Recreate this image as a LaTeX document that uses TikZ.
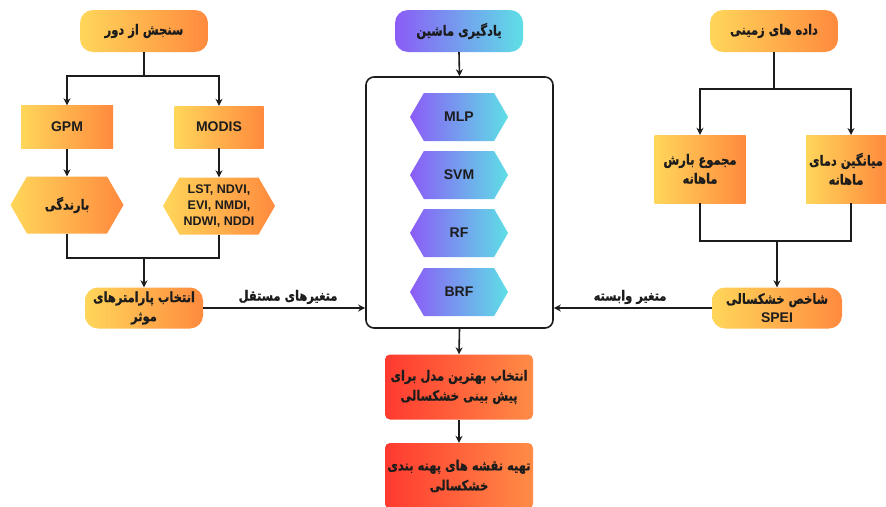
\documentclass[tikz,border=0pt]{standalone}
\usepackage{fontspec}
\setmainfont{Liberation Sans}
\newfontfamily\fa[Script=Arabic, FakeStretch=0.82, BoldFeatures={FakeStretch=0.82, FakeBold=0.8}]{DejaVu Sans}
\TeXXeTstate=1
\usetikzlibrary{shapes.symbols,arrows.meta,calc}
\definecolor{ylw}{RGB}{255,214,90}
\definecolor{org}{RGB}{255,138,62}
\definecolor{redL}{RGB}{255,58,48}
\definecolor{redR}{RGB}{255,140,70}
\definecolor{purL}{RGB}{139,92,246}
\definecolor{cyaR}{RGB}{94,223,230}
\definecolor{ink}{RGB}{28,28,28}
\newcommand{\fatext}[1]{{\fa\bfseries\beginR #1\endR}}
\begin{document}
\begin{tikzpicture}[x=1pt,y=-1pt,
  base/.style={rectangle, inner sep=0pt, align=center, text=ink, font=\bfseries\fontsize{14}{19}\selectfont},
  orbox/.style={base, left color=ylw, right color=org},
  pill/.style={orbox, rounded corners=13pt},
  purbox/.style={base, left color=purL, right color=cyaR, rounded corners=13pt},
  redbox/.style={base, left color=redL, right color=redR, rounded corners=5pt, font=\bfseries\fontsize{14}{20}\selectfont},
  hexo/.style={base, shape=signal, signal to=east and west, signal pointer angle=120, left color=ylw, right color=org},
  hexp/.style={base, shape=signal, signal to=east and west, signal pointer angle=120, left color=purL, right color=cyaR, font=\bfseries\fontsize{14}{17}\selectfont, minimum width=98pt, minimum height=48pt},
  latin/.style={font=\bfseries\fontsize{14}{17}\selectfont},
  arr/.style={draw=ink, line width=1.6pt, -{Stealth[length=7pt,width=7pt]}},
  ln/.style={draw=ink, line width=1.6pt},
  elabel/.style={text=ink, font=\bfseries\fontsize{14}{16}\selectfont, inner sep=0pt}
]
\fill[white] (0,0) rectangle (886,506);
\useasboundingbox (0,0) rectangle (886,506);

% left column
\node[pill, minimum width=128pt, minimum height=42pt] (rs) at (144,31) {\fatext{سنجش از دور}};
\node[orbox, latin, minimum width=92pt, minimum height=43pt] (gpm) at (67,127) {GPM};
\node[orbox, latin, minimum width=89pt, minimum height=42pt] (modis) at (219,127) {MODIS};
\node[hexo, minimum width=113pt, minimum height=57pt] (bar) at (67,205) {\fatext{بارندگی}};
\node[hexo, minimum width=112pt, minimum height=57pt, font=\bfseries\fontsize{12.5}{16}\selectfont] (lst) at (219,206) {LST, NDVI,\\EVI, NMDI,\\NDWI, NDDI};
\node[pill, minimum width=118pt, minimum height=41pt] (params) at (144,308) {\fatext{انتخاب پارامترهای}\\\fatext{موثر}};

\coordinate (jTL) at (144,76);
\coordinate (jBL) at (144,258);
\draw[ln] (rs.south) -- (jTL);
\draw[arr] (jTL) -| (gpm.north);
\draw[arr] (jTL) -| (modis.north);
\draw[arr] (gpm.south) -- (bar.north);
\draw[arr] (modis.south) -- (lst.north);
\draw[ln] (bar.south) |- (jBL);
\draw[ln] (lst.south) |- (jBL);
\draw[arr] (jBL) -- (params.north);

% middle column
\node[purbox, minimum width=128pt, minimum height=42pt] (ml) at (459,31) {\fatext{یادگیری ماشین}};
\node[draw=ink, line width=1.6pt, rounded corners=8pt, minimum width=187pt, minimum height=251pt, inner sep=0pt] (cont) at (459.5,202.5) {};
\node[hexp] (mlp) at (459,117) {MLP};
\node[hexp] (svm) at (459,175) {SVM};
\node[hexp] (rf) at (459,233) {RF};
\node[hexp] (brf) at (459,292) {BRF};
\node[redbox, minimum width=148pt, minimum height=65pt] (best) at (459,387) {\fatext{انتخاب بهترین مدل برای}\\\fatext{پیش بینی خشکسالی}};
\node[redbox, minimum width=148pt, minimum height=66pt] (map) at (459,476) {\fatext{تهیه نقشه های پهنه بندی}\\\fatext{خشکسالی}};

\draw[arr] (ml.south) -- (cont.north);
\draw[arr] (cont.south) -- (best.north);
\draw[arr] (best.south) -- (map.north);

% right column
\node[pill, minimum width=128pt, minimum height=42pt] (gd) at (774,31) {\fatext{داده های زمینی}};
\node[orbox, minimum width=91pt, minimum height=68pt] (rain) at (700,169) {\fatext{مجموع بارش}\\\fatext{ماهانه}};
\node[orbox, minimum width=80pt, minimum height=68pt] (temp) at (846,169) {\fatext{میانگین دمای}\\\fatext{ماهانه}};
\node[pill, minimum width=130pt, minimum height=41pt] (spei) at (777,308) {\fatext{شاخص خشکسالی}\\SPEI};

\coordinate (jTR) at (774,89);
\coordinate (jBR) at (777,241);
\coordinate (tTop) at (851,135);
\coordinate (tBot) at (851,203);
\draw[ln] (gd.south) -- (jTR);
\draw[arr] (jTR) -| (rain.north);
\draw[arr] (jTR) -| (tTop);
\draw[ln] (rain.south) |- (jBR);
\draw[ln] (tBot) |- (jBR);
\draw[arr] (jBR) -- (spei.north);

% side connectors
\draw[arr] (params.east) -- (cont.west |- params.east);
\draw[arr] (spei.west) -- (cont.east |- spei.west);
\node[elabel] (lin) at (288,297) {\fatext{متغیرهای مستقل}};
\node[elabel] (lout) at (630,297) {\fatext{متغیر وابسته}};
\end{tikzpicture}
\end{document}
